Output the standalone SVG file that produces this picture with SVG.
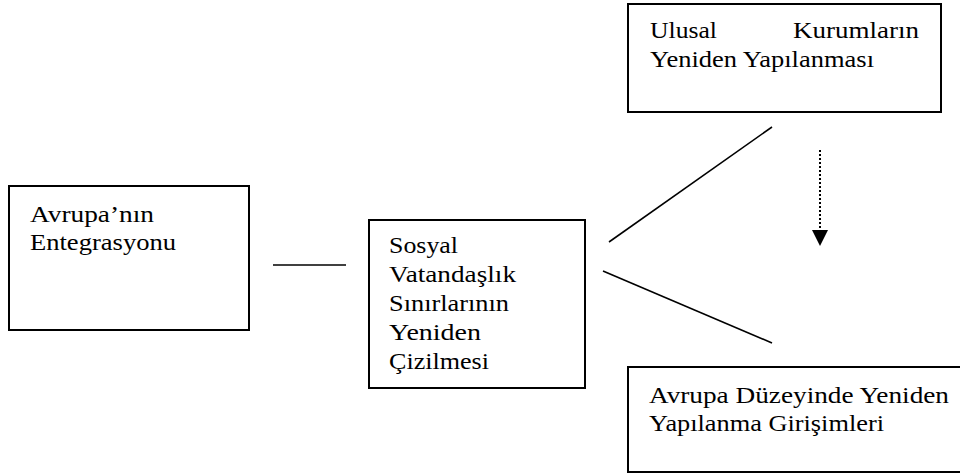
<svg xmlns="http://www.w3.org/2000/svg" width="960" height="474" viewBox="0 0 960 474">
<style>
.box{fill:#fff;stroke:#000;stroke-width:2}
.t{font-family:"Liberation Serif","Times New Roman",serif;font-size:24px;fill:#000}
.ln{stroke:#000;stroke-width:1.6;fill:none}
.dot{stroke:#000;stroke-width:2;stroke-dasharray:2 2;fill:none}
</style>
<rect width="960" height="474" fill="#fff"/>
<g id="connectors">
<line class="ln" x1="273" y1="265" x2="346" y2="265"/>
<line class="ln" x1="609" y1="242" x2="772" y2="127"/>
<line class="ln" x1="603" y1="271" x2="772" y2="343"/>
<line class="dot" x1="820" y1="150" x2="820" y2="231"/>
<polygon points="812,230 828,230 820,246" fill="#000"/>
</g>
<g id="node-ulusal">
<rect class="box" x="628" y="4" width="313" height="108"/>
<text class="t" x="650" y="38" textLength="67" lengthAdjust="spacingAndGlyphs">Ulusal</text>
<text class="t" x="793" y="38" textLength="126" lengthAdjust="spacingAndGlyphs">Kurumların</text>
<text class="t" x="650" y="67" textLength="224" lengthAdjust="spacingAndGlyphs">Yeniden Yapılanması</text>
</g>
<g id="node-avrupa">
<rect class="box" x="9" y="186" width="240" height="144"/>
<text class="t" x="30" y="222" textLength="124" lengthAdjust="spacingAndGlyphs">Avrupa’nın</text>
<text class="t" x="30" y="250" textLength="146" lengthAdjust="spacingAndGlyphs">Entegrasyonu</text>
</g>
<g id="node-sosyal">
<rect class="box" x="369" y="220" width="216" height="168"/>
<text class="t" x="389" y="253" textLength="69" lengthAdjust="spacingAndGlyphs">Sosyal</text>
<text class="t" x="389" y="282" textLength="127" lengthAdjust="spacingAndGlyphs">Vatandaşlık</text>
<text class="t" x="389" y="311" textLength="120" lengthAdjust="spacingAndGlyphs">Sınırlarının</text>
<text class="t" x="389" y="340" textLength="92" lengthAdjust="spacingAndGlyphs">Yeniden</text>
<text class="t" x="389" y="369" textLength="100" lengthAdjust="spacingAndGlyphs">Çizilmesi</text>
</g>
<g id="node-duzey">
<rect class="box" x="628" y="367" width="340" height="105"/>
<text class="t" x="649" y="403" textLength="300" lengthAdjust="spacingAndGlyphs">Avrupa Düzeyinde Yeniden</text>
<text class="t" x="649" y="431" textLength="235" lengthAdjust="spacingAndGlyphs">Yapılanma Girişimleri</text>
</g>
</svg>
